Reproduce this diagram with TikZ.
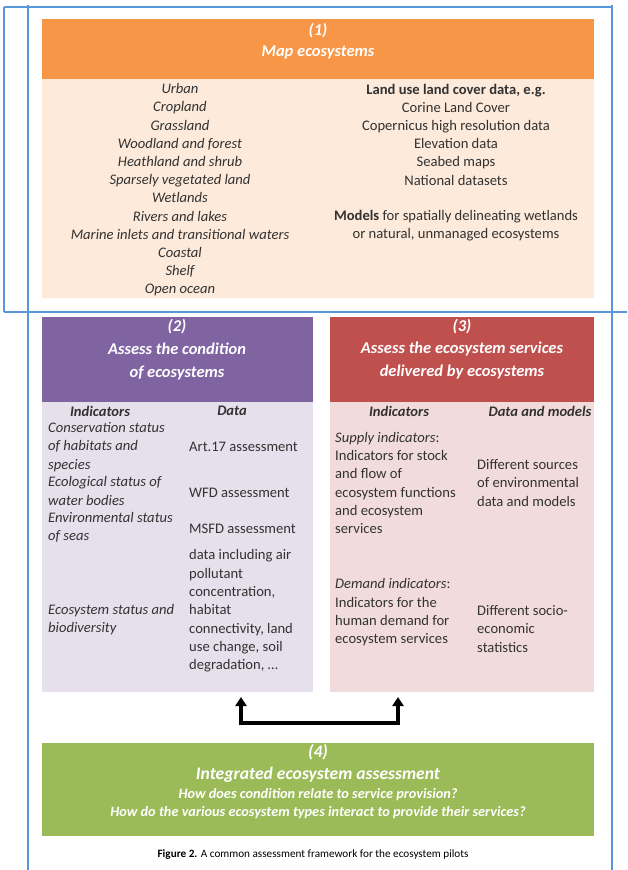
\documentclass[tikz,border=0pt]{standalone}
\usepackage{fontspec}
\setmainfont{Carlito}
\usetikzlibrary{arrows.meta}
\definecolor{frame}{RGB}{90,150,220}
\definecolor{orangeh}{RGB}{247,150,70}
\definecolor{orangeb}{RGB}{253,234,218}
\definecolor{purpleh}{RGB}{128,100,162}
\definecolor{purpleb}{RGB}{229,224,236}
\definecolor{redh}{RGB}{192,80,77}
\definecolor{redb}{RGB}{242,220,219}
\definecolor{greenh}{RGB}{155,187,89}
\definecolor{txt}{RGB}{50,50,50}
\begin{document}
\begin{tikzpicture}[x=1pt,y=-1pt,
  panel/.style={anchor=north west, inner sep=0, outer sep=0, draw=none},
  hdr/.style={text=white, font=\bfseries\itshape\fontsize{16.5}{22}\selectfont, align=center, inner sep=0},
  bodytxt/.style={text=txt, font=\fontsize{14.6}{18.3}\selectfont, inner sep=0},
  colhead/.style={text=txt, font=\bfseries\itshape\fontsize{14.6}{18.3}\selectfont, inner sep=0},
  frameline/.style={draw=frame, line width=1.8pt},
  link/.style={line width=3.2pt, -{Triangle[length=9pt,width=11pt]}}
]
\useasboundingbox (0,0) rectangle (627,870);
% frame lines
\draw[frameline] (4,7) -- (612,7);
\draw[frameline] (4,7) -- (4,312);
\draw[frameline] (4,312) -- (627,312);
\draw[frameline] (28,5) -- (28,870);
\draw[frameline] (612,5) -- (612,870);
% panels
\node[panel, fill=orangeh, minimum width=552pt, minimum height=60pt] (h1) at (42,19) {};
\node[panel, fill=orangeb, minimum width=552pt, minimum height=219pt] (b1) at (42,79) {};
\node[panel, fill=purpleh, minimum width=271pt, minimum height=85pt] (h2) at (42,317) {};
\node[panel, fill=purpleb, minimum width=271pt, minimum height=290pt] (b2) at (42,402) {};
\node[panel, fill=redh, minimum width=264pt, minimum height=85pt] (h3) at (330,317) {};
\node[panel, fill=redb, minimum width=264pt, minimum height=290pt] (b3) at (330,402) {};
\node[panel, fill=greenh, minimum width=552pt, minimum height=93pt] (b4) at (42,743) {};
% header texts
\node[hdr, font=\bfseries\itshape\fontsize{16.5}{21}\selectfont] (t1) at (318,41) {(1)\\Map ecosystems};
\node[hdr, font=\bfseries\itshape\fontsize{16.5}{23}\selectfont] (t2) at (177,350) {(2)\\Assess the condition\\of ecosystems};
\node[hdr, font=\bfseries\itshape\fontsize{16.5}{22.5}\selectfont] (t3) at (462,349) {(3)\\Assess the ecosystem services\\delivered by ecosystems};
% box 1 body
\node[bodytxt, align=center, font=\itshape\fontsize{14.6}{18.2}\selectfont] (l1) at (180,190) {Urban\\Cropland\\Grassland\\Woodland and forest\\Heathland and shrub\\Sparsely vegetated land\\Wetlands\\Rivers and lakes\\Marine inlets and transitional waters\\Coastal\\Shelf\\Open ocean};
\node[bodytxt, align=center, font=\fontsize{14.6}{18.2}\selectfont] (r1a) at (456,134.5) {\textbf{Land use land cover data, e.g.}\\Corine Land Cover\\Copernicus high resolution data\\Elevation data\\Seabed maps\\National datasets};
\node[bodytxt, align=center, font=\fontsize{14.6}{18.5}\selectfont] (r1b) at (456,225.5) {\textbf{Models} for spatially delineating wetlands\\or natural, unmanaged ecosystems};
% box 2 body
\node[colhead] (ih2) at (100,411) {Indicators};
\node[colhead] (dh2) at (232,411) {Data};
\node[bodytxt, anchor=west, align=left, font=\itshape\fontsize{14.6}{18.3}\selectfont] (i2a) at (48,447) {Conservation status\\of habitats and\\species};
\node[bodytxt, anchor=west, align=left, font=\itshape\fontsize{14.6}{18.3}\selectfont] (i2b) at (48,491) {Ecological status of\\water bodies};
\node[bodytxt, anchor=west, align=left, font=\itshape\fontsize{14.6}{18.3}\selectfont] (i2c) at (48,527.5) {Environmental status\\of seas};
\node[bodytxt, anchor=west, align=left, font=\itshape\fontsize{14.6}{18.3}\selectfont] (i2d) at (48,619.5) {Ecosystem status and\\biodiversity};
\node[bodytxt, anchor=west] (d2a) at (189,447) {Art.17 assessment};
\node[bodytxt, anchor=west] (d2b) at (189,493) {WFD assessment};
\node[bodytxt, anchor=west] (d2c) at (189,529) {MSFD assessment};
\node[bodytxt, anchor=west, align=left] (d2d) at (189,611) {data including air\\pollutant\\concentration,\\habitat\\connectivity, land\\use change, soil\\degradation, \dots};
% box 3 body
\node[colhead] (ih3) at (399,411) {Indicators};
\node[colhead] (dh3) at (540,411) {Data and models};
\node[bodytxt, anchor=west, align=left] (i3a) at (335,483) {\textit{Supply indicators}:\\Indicators for stock\\and flow of\\ecosystem functions\\and ecosystem\\services};
\node[bodytxt, anchor=west, align=left] (i3b) at (335,612.5) {\textit{Demand indicators}:\\Indicators for the\\human demand for\\ecosystem services};
\node[bodytxt, anchor=west, align=left] (d3a) at (477,483) {Different sources\\of environmental\\data and models};
\node[bodytxt, anchor=west, align=left] (d3b) at (477,629) {Different socio-\\economic\\statistics};
% arrow
\coordinate (a2) at (241,697);
\coordinate (a3) at (398,697);
\coordinate (m2) at (241,723);
\draw[line width=3.2pt] ([xshift=-1.6pt]m2) -- ([xshift=1.6pt]m2 -| a3);
\draw[link] ([yshift=1.6pt]m2) -- (a2);
\draw[link] ([yshift=1.6pt]m2 -| a3) -- (a3);
% box 4
\node[hdr, font=\bfseries\itshape\fontsize{17.6}{22}\selectfont] (t4) at (318,763) {(4)\\Integrated ecosystem assessment};
\node[hdr, font=\bfseries\itshape\fontsize{14.3}{18}\selectfont] (q4) at (318,804) {How does condition relate to service provision?\\How do the various ecosystem types interact to provide their services?};
% caption
\node[text=black, font=\fontsize{11.2}{14}\selectfont, inner sep=0] (cap) at (313,855) {\textbf{Figure 2.} A common assessment framework for the ecosystem pilots};
\end{tikzpicture}
\end{document}
